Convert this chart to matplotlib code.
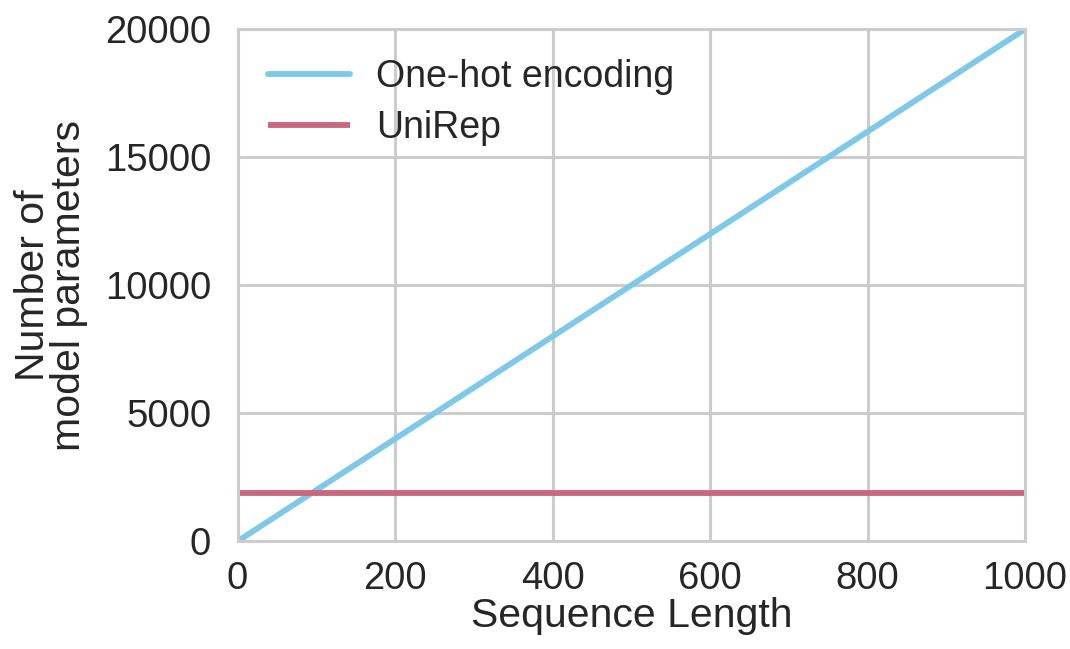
import matplotlib
matplotlib.use("Agg")
import matplotlib.pyplot as plt

# values
seq_len = [0, 1000]
onehot_params = [0, 20000]
unirep_params = [1900, 1900]

plt.rcParams['font.family'] = ['Liberation Sans', 'DejaVu Sans']

fig = plt.figure(figsize=(10.7, 6.49), dpi=100)
ax = fig.add_axes([0.222, 0.166, 0.736, 0.789])

ax.plot(seq_len, onehot_params, color='#7ec8e8', linewidth=4.2, label='One-hot encoding', solid_capstyle='round')
ax.plot(seq_len, unirep_params, color='#c9677b', linewidth=4.2, label='UniRep', solid_capstyle='butt')

ax.set_xlim(0, 1000)
ax.set_ylim(0, 20000)
ax.set_xticks([0, 200, 400, 600, 800, 1000])
ax.set_yticks([0, 5000, 10000, 15000, 20000])
ax.grid(True, color='#cccccc', linewidth=2.2)
ax.set_axisbelow(True)
for s in ax.spines.values():
    s.set_color('#cccccc')
    s.set_linewidth(2.2)
ax.tick_params(axis='both', length=0, labelsize=27.5, colors='#262626')
ax.tick_params(axis='y', pad=19)
ax.tick_params(axis='x', pad=14)

ax.set_xlabel('Sequence Length', fontsize=29.5, color='#262626', labelpad=0)
ax.set_ylabel('Number of\nmodel parameters', fontsize=29.5, color='#262626', labelpad=12, linespacing=0.95)

leg = ax.legend(loc='upper left', frameon=False, fontsize=27, handlelength=2.2,
                handletextpad=0.7, borderaxespad=0.4, labelspacing=0.4)
for t in leg.get_texts():
    t.set_color('#262626')

fig.savefig('out.png', dpi=100)
